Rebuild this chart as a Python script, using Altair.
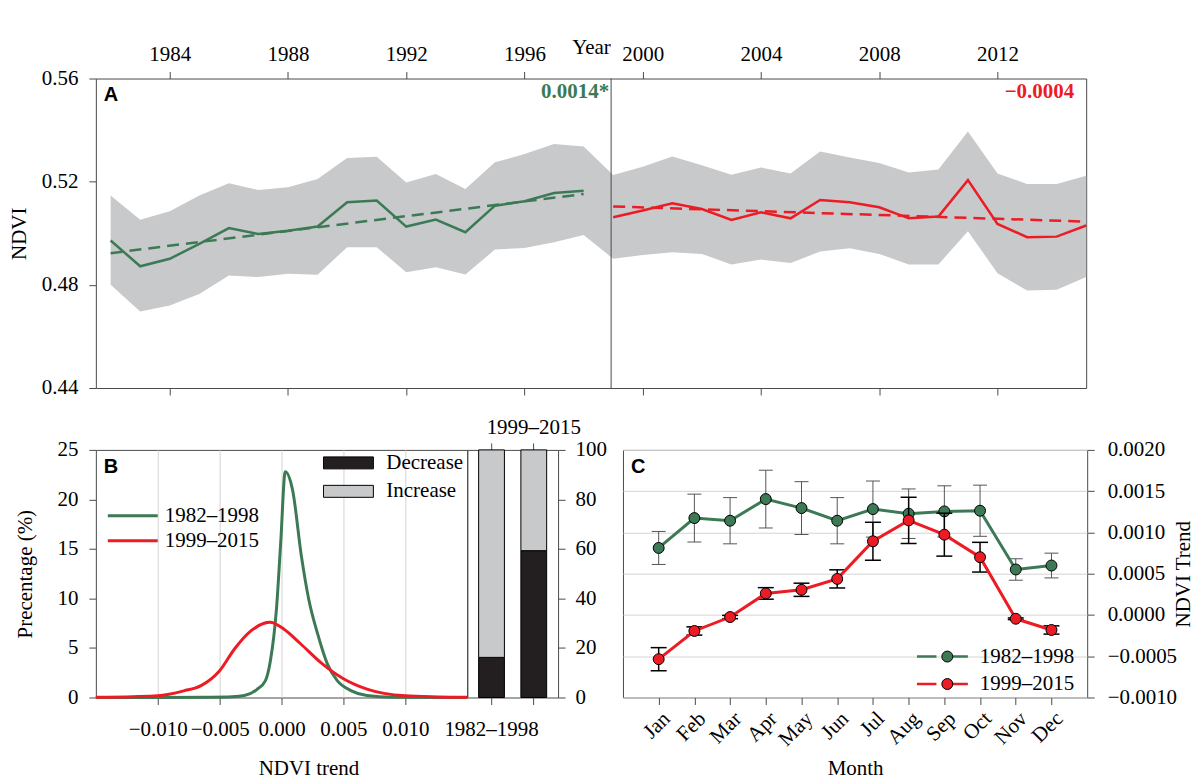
import altair as alt
import pandas as pd

SERIF = "Liberation Serif"
SANS = "Liberation Sans"
GREEN = "#3c7a56"
RED = "#ed1c24"
BAND = "#c8c9cb"
DARK = "#231f20"
FRAME = "#4a4a4a"
GRID = "#d4d4d4"

periods = ["1982–1998", "1999–2015"]
panel_letters = ["A", "B", "C"]

# ---------------- Panel A data ----------------
years_1 = list(range(1982, 1999))
ndvi_1 = [0.4972, 0.4872, 0.4901, 0.4959, 0.5020, 0.4997, 0.5010, 0.5026, 0.5120,
          0.5127, 0.5026, 0.5053, 0.5004, 0.5107, 0.5124, 0.5156, 0.5165]
years_2 = list(range(1999, 2016))
ndvi_2 = [0.5062, 0.5088, 0.5116, 0.5094, 0.5052, 0.5081, 0.5058, 0.5129, 0.5120,
          0.5101, 0.5058, 0.5065, 0.5206, 0.5036, 0.4985, 0.4987, 0.5030]
band_years = list(range(1982, 2016))
band_lo = [0.4800, 0.4697, 0.4720, 0.4765, 0.4836, 0.4830, 0.4843, 0.4839, 0.4946,
           0.4946, 0.4849, 0.4868, 0.4840, 0.4937, 0.4943, 0.4965, 0.4993, 0.4901,
           0.4916, 0.4926, 0.4920, 0.4879, 0.4898, 0.4885, 0.4929, 0.4942, 0.4920,
           0.4879, 0.4879, 0.5008, 0.4845, 0.4778, 0.4781, 0.4830]
band_hi = [0.5146, 0.5052, 0.5085, 0.5146, 0.5194, 0.5168, 0.5178, 0.5210, 0.5292,
           0.5297, 0.5197, 0.5230, 0.5172, 0.5275, 0.5307, 0.5346, 0.5336, 0.5226,
           0.5258, 0.5298, 0.5264, 0.5227, 0.5255, 0.5232, 0.5317, 0.5294, 0.5272,
           0.5236, 0.5247, 0.5395, 0.5232, 0.5191, 0.5191, 0.5223]
year_ticks = [1984, 1988, 1992, 1996, 2000, 2004, 2008, 2012]
ndvi_ticks = [0.44, 0.48, 0.52, 0.56]
year_domain = [1981.5, 2015]
split_year = [1998.93]
slope_text = ["0.0014*", "−0.0004"]

# ---------------- Panel B data ----------------
trend_1 = [-0.015, -0.010, -0.006, -0.004, -0.003, -0.002, -0.0013, -0.0009, -0.0004,
           -0.00006, 0.0003, 0.0009, 0.0016, 0.0022, 0.0029, 0.0037, 0.0045, 0.0056,
           0.0069, 0.0090, 0.0150]
pct_1 = [0.0, 0.0, 0.03, 0.08, 0.2, 0.8, 1.7, 3.7, 9.1, 15.8, 22.8, 20.9, 14.3, 9.9,
         6.5, 3.4, 1.7, 0.7, 0.2, 0.03, 0.0]
trend_2 = [-0.015, -0.012, -0.010, -0.0079, -0.0065, -0.005, -0.0038, -0.0025, -0.00094,
           0.0002, 0.00156, 0.0032, 0.005, 0.0069, 0.010, 0.0125, 0.015]
pct_2 = [0.03, 0.08, 0.17, 0.67, 1.2, 2.7, 4.9, 6.7, 7.6, 6.9, 5.4, 3.5, 1.9, 0.85,
         0.17, 0.06, 0.02]
trend_ticks = [-0.010, -0.005, 0.0, 0.005, 0.010]
pct_ticks = [0, 5, 10, 15, 20, 25]

change_types = ["Decrease", "Increase"]
decrease_pct = [16.2, 59.3]
increase_pct = [83.8, 40.7]
share_ticks = [0, 20, 40, 60, 80, 100]

# ---------------- Panel C data ----------------
months = ["Jan", "Feb", "Mar", "Apr", "May", "Jun", "Jul", "Aug", "Sep", "Oct", "Nov", "Dec"]
g_val = [0.000812, 0.001174, 0.001142, 0.001404, 0.001295, 0.001142, 0.001283,
         0.001227, 0.001255, 0.001263, 0.000551, 0.000599]
g_err = [0.00020, 0.00029, 0.00028, 0.00035, 0.00032, 0.00028, 0.00034, 0.00030,
         0.00031, 0.00031, 0.00013, 0.00015]
r_val = [-0.000536, -0.000194, -0.000025, 0.000261, 0.000305, 0.000437, 0.000893,
         0.001146, 0.000973, 0.000700, -0.000046, -0.000182]
r_err = [0.00014, 0.00005, 0.00002, 0.00007, 0.00008, 0.00011, 0.00023, 0.00028,
         0.00026, 0.00018, 0.00001, 0.00005]
c_ticks = [-0.0010, -0.0005, 0.0, 0.0005, 0.0010, 0.0015, 0.0020]

W_A, H_A = 992, 310
W_B, W_BAR, W_C, H_B = 372, 91, 465, 248


def letter(ch):
    return alt.Chart(pd.DataFrame({"t": [ch]})).mark_text(
        font=SANS, fontSize=20, fontWeight="bold", align="left",
        baseline="alphabetic", color="black"
    ).encode(text="t:N", x=alt.value(8), y=alt.value(23))


# ---------------- Panel A ----------------
xs_year = alt.Scale(domain=year_domain, nice=False, zero=False)
ys_ndvi = alt.Scale(domain=[0.44, 0.56], nice=False, zero=False)
ax_ndvi = alt.Axis(values=ndvi_ticks, format=".2f", title="NDVI",
                   titleX=-76.5, titleBaseline="middle")
df_band = pd.DataFrame({"year": band_years, "lo": band_lo, "hi": band_hi})
df_a = pd.DataFrame({
    "year": years_1 + years_2,
    "ndvi": ndvi_1 + ndvi_2,
    "period": [periods[0]] * len(years_1) + [periods[1]] * len(years_2),
})

band = alt.Chart(df_band).mark_area(color=BAND, opacity=1).encode(
    x=alt.X("year:Q", scale=xs_year,
            axis=alt.Axis(orient="top", values=year_ticks, format="d", title="Year",
                          titleY=-25, titleBaseline="alphabetic", labelPadding=7)),
    y=alt.Y("lo:Q", scale=ys_ndvi, axis=ax_ndvi),
    y2="hi:Q",
)

divider = alt.Chart(pd.DataFrame({"year": split_year})).mark_rule(
    color=FRAME, strokeWidth=1
).encode(x=alt.X("year:Q", scale=xs_year, axis=None))


def a_line(period, color, bottom_axis=False):
    ax = alt.Axis(orient="bottom", values=year_ticks, labels=False, title=None) if bottom_axis else None
    return alt.Chart(df_a).transform_filter(alt.datum.period == period).mark_line(
        color=color, strokeWidth=2.5
    ).encode(
        x=alt.X("year:Q", scale=xs_year, axis=ax),
        y=alt.Y("ndvi:Q", scale=ys_ndvi, axis=ax_ndvi),
    )


def a_trend(period, color):
    return alt.Chart(df_a).transform_filter(alt.datum.period == period).transform_regression(
        "year", "ndvi"
    ).mark_line(color=color, strokeWidth=2.5, strokeDash=[12, 7]).encode(
        x=alt.X("year:Q", scale=xs_year, axis=None),
        y=alt.Y("ndvi:Q", scale=ys_ndvi, axis=ax_ndvi),
    )


df_slope = pd.DataFrame({"year": [split_year[0], year_domain[1]], "ndvi": [0.56, 0.56],
                         "label": slope_text})


def a_slope(i, color, dx):
    return alt.Chart(df_slope.iloc[[i]]).mark_text(
        align="right", baseline="alphabetic", dy=19, dx=dx, fontSize=21,
        fontWeight="bold", font=SERIF, color=color
    ).encode(
        x=alt.X("year:Q", scale=xs_year, axis=None),
        y=alt.Y("ndvi:Q", scale=ys_ndvi, axis=ax_ndvi),
        text="label:N",
    )


panel_a = alt.layer(
    band, divider,
    a_line(periods[0], GREEN, bottom_axis=True), a_line(periods[1], RED),
    a_trend(periods[0], GREEN), a_trend(periods[1], RED),
    a_slope(0, GREEN, -2), a_slope(1, RED, -12),
    letter(panel_letters[0]),
).resolve_axis(x="independent").properties(width=W_A, height=H_A)

# ---------------- Panel B ----------------
df_b = pd.DataFrame({
    "trend": trend_1 + trend_2,
    "pct": pct_1 + pct_2,
    "period": [periods[0]] * len(trend_1) + [periods[1]] * len(trend_2),
})
b_lines = alt.Chart(df_b).mark_line(strokeWidth=3, interpolate="monotone").encode(
    x=alt.X("trend:Q", scale=alt.Scale(domain=[-0.015, 0.015], nice=False, zero=False),
            axis=alt.Axis(values=trend_ticks, format=".3f", grid=True, title="NDVI trend",
                          titleX=213, titleY=77, titleBaseline="alphabetic",
                          labelPadding=14)),
    y=alt.Y("pct:Q", scale=alt.Scale(domain=[0, 25], nice=False),
            axis=alt.Axis(values=pct_ticks, title="Precentage (%)", titleX=-70,
                          titleBaseline="middle")),
    color=alt.Color("period:N", scale=alt.Scale(domain=periods, range=[GREEN, RED]),
                    legend=alt.Legend(orient="none", legendX=10.5, legendY=58, title=None,
                                      symbolType="stroke", symbolSize=2500,
                                      symbolStrokeWidth=3, labelOffset=5.5, clipHeight=16,
                                      rowPadding=4)),
)
panel_b = alt.layer(b_lines, letter(panel_letters[1])).properties(width=W_B, height=H_B)

# ---------------- Bars ----------------
df_bar = pd.DataFrame({
    "period": periods * 2,
    "type": [change_types[0]] * 2 + [change_types[1]] * 2,
    "value": decrease_pct + increase_pct,
    "ord": [0, 0, 1, 1],
})
bar_scale = alt.Scale(paddingInner=0.39, paddingOuter=0.27)
ys_share = alt.Scale(domain=[0, 100], nice=False)
ax_share = alt.Axis(orient="right", values=share_ticks, title=None, labelPadding=10)
bars = alt.Chart(df_bar).mark_bar(stroke="black", strokeWidth=1).encode(
    x=alt.X("period:N", sort=periods, scale=bar_scale,
            axis=alt.Axis(orient="bottom", title=None, labelAngle=0, labelPadding=14,
                          labelExpr="datum.label == '%s' ? datum.label : ''" % periods[0])),
    y=alt.Y("value:Q", stack="zero", scale=ys_share, axis=ax_share),
    color=alt.Color("type:N", scale=alt.Scale(domain=change_types, range=[DARK, BAND]),
                    legend=alt.Legend(orient="none", legendX=-144.5, legendY=5, title=None,
                                      symbolType="M-1,-0.24H1V0.24H-1Z", symbolSize=2500,
                                      symbolStrokeColor="black", symbolStrokeWidth=1,
                                      labelOffset=12.5, clipHeight=16, rowPadding=7.5)),
    order=alt.Order("ord:Q"),
)
bars_top = alt.Chart(df_bar).mark_tick(opacity=0).encode(
    x=alt.X("period:N", sort=periods, scale=bar_scale,
            axis=alt.Axis(orient="top", title=None, labelAngle=0, labelPadding=5,
                          labelExpr="datum.label == '%s' ? datum.label : ''" % periods[1])),
    y=alt.Y("value:Q", scale=ys_share, axis=ax_share),
)
panel_bars = alt.layer(bars, bars_top).resolve_axis(x="independent").properties(
    width=W_BAR, height=H_B)

# ---------------- Panel C ----------------
df_c = pd.DataFrame({
    "month": months * 2,
    "val": g_val + r_val,
    "err": g_err + r_err,
    "period": [periods[0]] * 12 + [periods[1]] * 12,
})
xC = alt.X("month:N", sort=months, scale=alt.Scale(type="point", padding=1),
           axis=alt.Axis(labelAngle=-45, labelAlign="right", labelBaseline="top",
                         labelPadding=3, title="Month", titleY=77,
                         titleBaseline="alphabetic"))
ysC = alt.Scale(domain=[-0.001, 0.002], nice=False, zero=False)
axC = alt.Axis(orient="right", values=c_ticks, format=".4f", grid=True,
               title="NDVI Trend", titleAngle=270, titleX=102.5,
               titleBaseline="alphabetic", labelPadding=13)
c_stroke_legend = alt.Legend(
    orient="none", legendX=293, legendY=199, title=None,
    symbolType="M-1,0H-0.235M0.235,0H1",
    symbolSize=2601, symbolStrokeWidth=2.5, labelOffset=10.5, clipHeight=16,
    rowPadding=6.5,
)
c_fill_legend = alt.Legend(
    orient="none", legendX=314.4, legendY=199, title=None,
    symbolType="circle", symbolSize=120, symbolStrokeColor="black",
    symbolStrokeWidth=1, clipHeight=16, rowPadding=6.5, labelExpr="''",
)


def c_layers(period, ecolor, cap, ew):
    base = alt.Chart(df_c).transform_filter(alt.datum.period == period).transform_calculate(
        lo="datum.val - datum.err", hi="datum.val + datum.err", series="datum.period")
    rule = base.mark_rule(color=ecolor, strokeWidth=ew).encode(
        x=xC, y=alt.Y("lo:Q", scale=ysC, axis=axC), y2="hi:Q")
    caps = base.transform_fold(["lo", "hi"], as_=["end", "yv"]).mark_tick(
        color=ecolor, thickness=ew, size=cap, opacity=1
    ).encode(x=xC, y=alt.Y("yv:Q", scale=ysC, axis=axC))
    line = base.mark_line(strokeWidth=3).encode(
        x=xC,
        y=alt.Y("val:Q", scale=ysC, axis=axC),
        stroke=alt.Stroke("period:N", scale=alt.Scale(domain=periods, range=[GREEN, RED]),
                          legend=c_stroke_legend),
    )
    pts = base.mark_circle(size=120, stroke="black", strokeWidth=1, opacity=1).encode(
        x=xC,
        y=alt.Y("val:Q", scale=ysC, axis=axC),
        fill=alt.Fill("series:N", scale=alt.Scale(range=[GREEN, RED]),
                      legend=c_fill_legend),
    )
    return [rule, caps, line, pts]


panel_c = alt.layer(
    *c_layers(periods[0], "#555555", 14, 1),
    *c_layers(periods[1], "black", 16, 1.5),
    letter(panel_letters[2]),
).properties(width=W_C, height=H_B)

# ---------------- Assemble ----------------
left_bottom = alt.hconcat(panel_b, panel_bars, spacing=0, bounds="flush").resolve_scale(
    color="independent")
bottom = alt.hconcat(left_bottom, panel_c, spacing=15, bounds="full").resolve_scale(
    color="independent", stroke="independent", fill="independent")
chart = alt.vconcat(panel_a, bottom, spacing=62, bounds="flush").resolve_scale(
    color="independent", stroke="independent", fill="independent")

chart = chart.properties(
    padding={"left": 0, "top": 27, "right": 0, "bottom": 0},
    background="white",
).configure_view(
    stroke=FRAME, strokeWidth=1
).configure_axis(
    labelFont=SERIF, labelFontSize=21, labelColor="black",
    titleFont=SERIF, titleFontSize=21, titleFontWeight="normal", titleColor="black",
    tickColor=FRAME, tickSize=7, tickWidth=1, domain=False, grid=False,
    gridColor=GRID, gridWidth=1, labelPadding=11, labelFlush=False, labelOverlap=False,
).configure_legend(
    labelFont=SERIF, labelFontSize=21, labelColor="black", padding=0,
)

chart.save("out.html", embed_options={"renderer": "svg", "actions": False})
